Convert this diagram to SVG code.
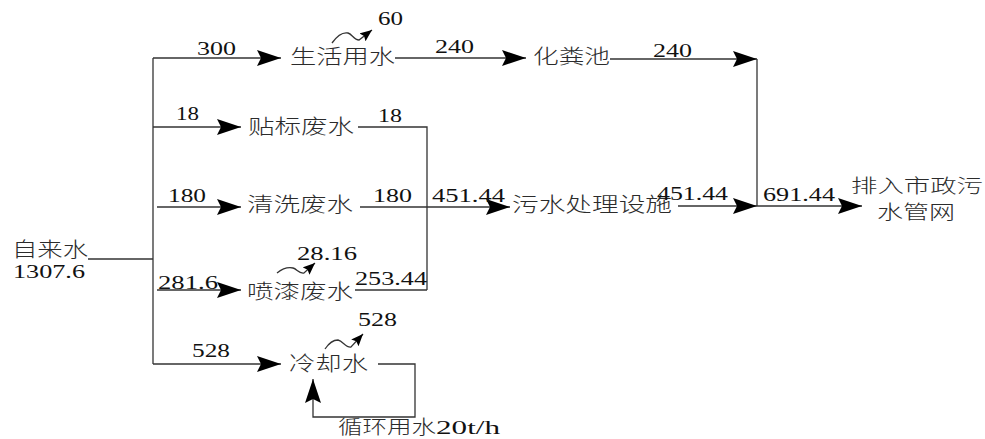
<svg xmlns="http://www.w3.org/2000/svg" width="985" height="439" viewBox="0 0 985 439">
<style>
.cn{font-family:"Noto Sans CJK SC","Noto Sans CJK JP",sans-serif;font-size:20px;font-weight:300;fill:#2b2b2b}
.num{font-family:"Liberation Serif",serif;font-size:19px;fill:#111}
.ln{fill:none;stroke:#333;stroke-width:1.3}
</style>
<defs>
<marker id="ah" markerUnits="userSpaceOnUse" markerWidth="24" markerHeight="16" refX="24" refY="8" orient="auto" viewBox="0 0 24 16">
<path d="M0,0 L24,8 L0,16 L4,8 Z" fill="#000"/>
</marker>
<marker id="sh" markerUnits="userSpaceOnUse" markerWidth="12" markerHeight="10" refX="12" refY="5" orient="auto" viewBox="0 0 12 10">
<path d="M0,0 L12,5 L0,10 L2,5 Z" fill="#000"/>
</marker>
</defs>
<rect width="985" height="439" fill="#fff"/>
<g id="connectors">
<path class="ln" d="M88,259 H153"/>
<path class="ln" d="M153,58 V364"/>
<path class="ln" d="M153,58 H281" marker-end="url(#ah)"/>
<path class="ln" d="M153,127 H241" marker-end="url(#ah)"/>
<path class="ln" d="M157,207 H241" marker-end="url(#ah)"/>
<path class="ln" d="M157,290 H241" marker-end="url(#ah)"/>
<path class="ln" d="M153,364 H281" marker-end="url(#ah)"/>
<path class="ln" d="M395,58 H526" marker-end="url(#ah)"/>
<path class="ln" d="M610,59 H757" marker-end="url(#ah)"/>
<path class="ln" d="M757,59 V206"/>
<path class="ln" d="M358,127 H427 V290"/>
<path class="ln" d="M360,207 H510" marker-end="url(#ah)"/>
<path class="ln" d="M355,290 H427"/>
<path class="ln" d="M678,206 H757" marker-end="url(#ah)"/>
<path class="ln" d="M757,206 H862" marker-end="url(#ah)"/>
<path class="ln" d="M378,364 H415 V417 H313 V379" marker-end="url(#ah)"/>
<path class="ln" d="M332,43 C337,36 343,32 348,33 C352,34 354,40 359,40 L372,30" marker-end="url(#sh)"/>
<path class="ln" d="M277,273 C282,269 288,267 293,268 C297,269 299,274 304,273 L315,263" marker-end="url(#sh)"/>
<path class="ln" d="M325,349 C329,343 334,340 338,340 C343,341 346,348 351,347 L363,334" marker-end="url(#sh)"/>
</g>
<g id="n-tap"><text class="cn" x="12" y="257" textLength="76" lengthAdjust="spacingAndGlyphs">自来水</text><text class="num" x="13" y="278" textLength="72" lengthAdjust="spacingAndGlyphs">1307.6</text></g>
<g id="n-domestic"><text class="cn" x="290" y="64" textLength="105" lengthAdjust="spacingAndGlyphs">生活用水</text></g>
<g id="n-septic"><text class="cn" x="533" y="64" textLength="77" lengthAdjust="spacingAndGlyphs">化粪池</text></g>
<g id="n-label"><text class="cn" x="248" y="134" textLength="106" lengthAdjust="spacingAndGlyphs">贴标废水</text></g>
<g id="n-wash"><text class="cn" x="247" y="212" textLength="106" lengthAdjust="spacingAndGlyphs">清洗废水</text></g>
<g id="n-spray"><text class="cn" x="247" y="299" textLength="106" lengthAdjust="spacingAndGlyphs">喷漆废水</text></g>
<g id="n-cool"><text class="cn" x="289" y="371" textLength="79" lengthAdjust="spacingAndGlyphs">冷却水</text></g>
<g id="n-treat"><text class="cn" x="512" y="212" textLength="160" lengthAdjust="spacingAndGlyphs">污水处理设施</text></g>
<g id="n-sewer"><text class="cn" x="851" y="193" textLength="132" lengthAdjust="spacingAndGlyphs" style="font-size:19px">排入市政污</text><text class="cn" x="877" y="219" textLength="78" lengthAdjust="spacingAndGlyphs" style="font-size:19px">水管网</text></g>
<g id="n-recycle"><text x="338" y="434"><tspan class="cn" textLength="98" lengthAdjust="spacingAndGlyphs" style="font-size:19px">循环用水</tspan><tspan class="num" textLength="64" lengthAdjust="spacingAndGlyphs">20t/h</tspan></text></g>
<g id="labels">
<text class="num" x="378" y="25" textLength="25" lengthAdjust="spacingAndGlyphs">60</text>
<text class="num" x="197" y="55" textLength="39" lengthAdjust="spacingAndGlyphs">300</text>
<text class="num" x="435" y="53" textLength="39" lengthAdjust="spacingAndGlyphs">240</text>
<text class="num" x="653" y="57" textLength="39" lengthAdjust="spacingAndGlyphs">240</text>
<text class="num" x="176" y="120" textLength="23" lengthAdjust="spacingAndGlyphs">18</text>
<text class="num" x="378" y="122" textLength="24" lengthAdjust="spacingAndGlyphs">18</text>
<text class="num" x="168" y="202" textLength="38" lengthAdjust="spacingAndGlyphs">180</text>
<text class="num" x="373" y="202" textLength="39" lengthAdjust="spacingAndGlyphs">180</text>
<text class="num" x="432" y="202" textLength="73" lengthAdjust="spacingAndGlyphs">451.44</text>
<text class="num" x="657" y="200" textLength="71" lengthAdjust="spacingAndGlyphs">451.44</text>
<text class="num" x="763" y="201" textLength="72" lengthAdjust="spacingAndGlyphs">691.44</text>
<text class="num" x="297" y="260" textLength="60" lengthAdjust="spacingAndGlyphs">28.16</text>
<text class="num" x="158" y="289" textLength="60" lengthAdjust="spacingAndGlyphs">281.6</text>
<text class="num" x="355" y="285" textLength="72" lengthAdjust="spacingAndGlyphs">253.44</text>
<text class="num" x="358" y="326" textLength="39" lengthAdjust="spacingAndGlyphs">528</text>
<text class="num" x="192" y="357" textLength="38" lengthAdjust="spacingAndGlyphs">528</text>
</g>
</svg>
